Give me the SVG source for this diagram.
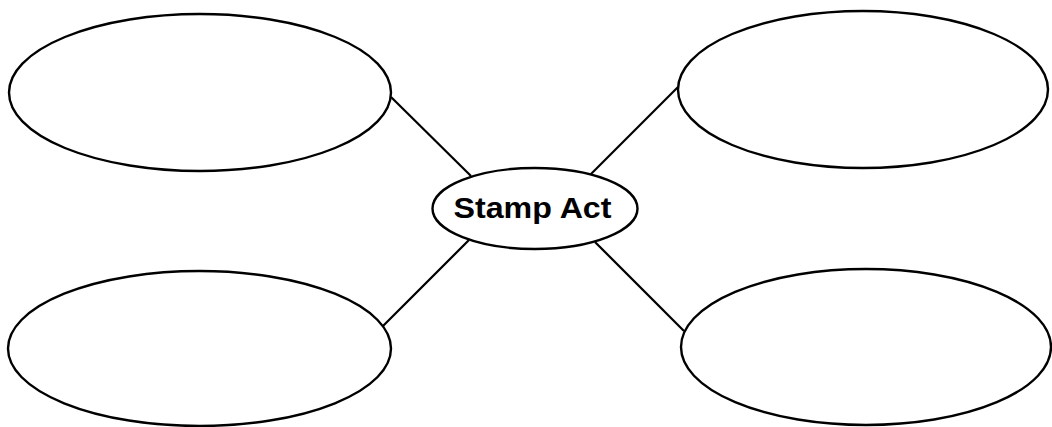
<svg xmlns="http://www.w3.org/2000/svg" width="1052" height="427" viewBox="0 0 1052 427">
  <style>
    .bubble { fill: #ffffff; stroke: #000000; stroke-width: 2.4; }
    .link { stroke: #000000; stroke-width: 2.2; fill: none; }
    .label { font-family: "Liberation Sans", Arial, Helvetica, sans-serif; font-weight: bold; font-size: 30px; fill: #000000; }
  </style>
  <rect width="1052" height="427" fill="#ffffff"/>
  <g id="connectors">
    <line class="link" x1="391" y1="97" x2="471" y2="176"/>
    <line class="link" x1="678" y1="87" x2="591" y2="174"/>
    <line class="link" x1="383" y1="326" x2="469" y2="240"/>
    <line class="link" x1="595" y1="242" x2="684" y2="331"/>
  </g>
  <g id="node-top-left">
    <ellipse class="bubble" cx="200" cy="92.5" rx="191" ry="78.5"/>
  </g>
  <g id="node-top-right">
    <ellipse class="bubble" cx="863" cy="89.5" rx="185" ry="78.5"/>
  </g>
  <g id="node-bottom-left">
    <ellipse class="bubble" cx="199.5" cy="348.5" rx="191.5" ry="77.5"/>
  </g>
  <g id="node-bottom-right">
    <ellipse class="bubble" cx="866" cy="347" rx="185" ry="78"/>
  </g>
  <g id="node-center">
    <ellipse class="bubble" cx="535" cy="208.5" rx="102.5" ry="40.5"/>
    <text class="label" x="532.5" y="218" text-anchor="middle" textLength="158" lengthAdjust="spacingAndGlyphs">Stamp Act</text>
  </g>
</svg>
